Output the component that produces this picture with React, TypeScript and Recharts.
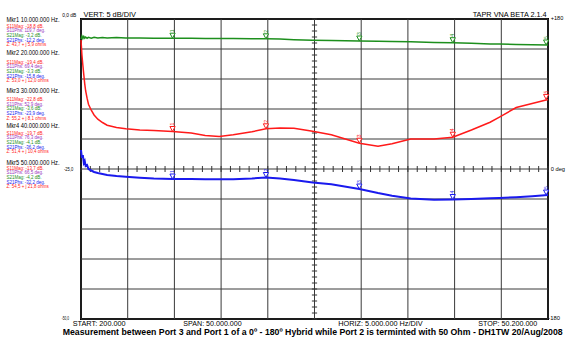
import React from 'react';
import {
  LineChart,
  Line,
  XAxis,
  YAxis,
  ReferenceLine,
  ReferenceArea,
  ReferenceDot,
} from 'recharts';

// sweep points (MHz) and the three traces
const freqMHz = [
  0.2, 0.3, 0.4, 0.5, 0.6, 0.7, 0.85, 1.0, 1.3, 1.6, 2.0, 2.5, 3.0, 4.0, 5.0, 6.5, 8.0, 10.0,
  12, 13.5, 15, 16.5, 18.5, 20, 21.5, 23, 25, 27, 30, 32, 33.5, 35.5, 38, 40, 42, 44, 45, 46.8,
  48.5, 50.2,
];
const s11Mag = [
  -3.5, -6.0, -7.7, -9.3, -10.8, -12.0, -13.2, -14.2, -15.2, -16.0, -16.7, -17.25, -17.7, -18.1,
  -18.3, -18.5, -18.6, -18.75, -19.0, -19.4, -19.6, -19.3, -18.8, -18.3, -18.15, -18.2, -18.7,
  -19.3, -20.7, -21.2, -20.8, -20.0, -20.0, -19.7, -18.5, -17.2, -16.35, -14.75, -14.1, -13.4,
];
const s21Mag = [
  -3.35, -2.85, -3.25, -2.9, -3.2, -3.0, -3.2, -3.05, -3.2, -3.05, -3.15, -3.1, -3.15, -3.1,
  -3.15, -3.15, -3.2, -3.2, -3.2, -3.25, -3.25, -3.25, -3.3, -3.3, -3.35, -3.45, -3.55, -3.6,
  -3.67, -3.72, -3.75, -3.8, -3.9, -3.95, -4.05, -4.15, -4.17, -4.25, -4.3, -4.33,
];
const s21Phs = [
  22.8, 13.2, 16.8, 7.2, 9.6, 3.6, 4.8, 0, -1.8, -3.6, -4.8, -6.0, -7.2, -8.4, -9.2, -10.4, -11.4,
  -12, -12, -12.3, -12.4, -12.2, -11.3, -10.2, -11.5, -13.2, -16.2, -18.2, -24, -28.8, -32, -35.5,
  -36.8, -36.6, -36, -35.2, -34.8, -33.8, -32.6, -31.2,
];

// markers
const markerFreq = [10, 20, 30, 40, 50];
const markerS11Mag = [-18.75, -18.3, -20.7, -19.7, -13.4];
const markerS21Mag = [-3.2, -3.3, -3.67, -3.95, -4.33];
const markerS21Phs = [-12, -10.2, -24, -36.6, -31.2];

// axes
const xTicks = [0.2, 5.2, 10.2, 15.2, 20.2, 25.2, 30.2, 35.2, 40.2, 45.2, 50.2];
const dbTicks = [0, -5, -10, -15, -20, -25, -30, -35, -40, -45, -50];
const degTicks = [180, 144, 108, 72, 36, 0, -36, -72, -108, -144, -180];

// marker readout panel
const mkrHead = [
  'Mkr1  10.000.000 Hz.',
  'Mkr2  20.000.000 Hz.',
  'Mkr3  30.000.000 Hz.',
  'Mkr4  40.000.000 Hz.',
  'Mkr5  50.000.000 Hz.',
];
const mkrS11Mag = ['-18,8', '-19,4', '-22,8', '-19,7', '-13,7'];
const mkrS11Phs = ['119,7', '69,4', '52,9', '76,3', '66,5'];
const mkrS21Mag = ['-3,2', '-3,3', '-3,6', '-4,1', '-4,2'];
const mkrS21Phs = ['-12,2', '-15,8', '-23,9', '-36,2', '-32,2'];
const mkrZ = ['43,7 + j 5,9', '53,0 + j 12,0', '55,2 + j 8,1', '51,4 + j 10,4', '54,5 + j 21,8'];

const headY = [21.8, 55.2, 92.5, 127.5, 164.8];
const subY = [27.7, 63.7, 101, 134.7, 169.7];

const GREEN = '#1d8f1d';
const RED = '#ff1a1a';
const BLUE = '#1a1aee';
const PURPLE = '#9a35c0';
const GRID = '#3a3a3a';
const FONT = '"Liberation Sans", Arial, sans-serif';

const rows = freqMHz.map((f, i) => ({ f, s11: s11Mag[i], s21: s21Mag[i], phs: s21Phs[i] }));

const minorDb = Array.from({ length: 51 }, (_, i) => -i);
const minorMHz = Array.from({ length: 51 }, (_, i) => 0.2 + i);

const markerShape = (color: string, n: number) => (props: any) => {
  const { cx, cy } = props;
  return (
    <g>
      <polygon
        points={`${cx},${cy} ${cx - 2.6},${cy - 5} ${cx + 2.6},${cy - 5}`}
        fill="#fff"
        stroke={color}
        strokeWidth={1}
      />
      <text
        x={cx + 1.6}
        y={cy - 6}
        fontSize={5}
        fill={color}
        fontFamily={FONT}
        transform={`rotate(-90 ${cx + 1.6} ${cy - 6})`}
      >
        {n}
      </text>
    </g>
  );
};

export default function App() {
  return (
    <div style={{ position: 'absolute', left: 0, top: 0, width: 580, height: 348, background: '#fff' }}>
      <LineChart width={580} height={348} data={rows} margin={{ top: 19, right: 32, bottom: 29, left: 81 }}>
        <XAxis
          dataKey="f"
          type="number"
          domain={[0.2, 50.2]}
          ticks={xTicks}
          tick={false}
          axisLine={false}
          tickLine={false}
          height={0}
        />
        <YAxis domain={[-50, 0]} ticks={dbTicks} tick={false} axisLine={false} tickLine={false} width={0} />
        <YAxis
          yAxisId="deg"
          orientation="right"
          domain={[-180, 180]}
          ticks={degTicks}
          tick={false}
          axisLine={false}
          tickLine={false}
          width={0}
        />
        {xTicks.map((f) => (
          <ReferenceLine key={`gx${f}`} x={f} stroke={GRID} strokeWidth={1} />
        ))}
        {dbTicks.map((d) => (
          <ReferenceLine key={`gy${d}`} y={d} stroke={GRID} strokeWidth={1} />
        ))}
        {minorDb.map((d) => (
          <ReferenceLine
            key={`md${d}`}
            segment={[{ x: 24.92, y: d }, { x: 25.48, y: d }]}
            stroke="#333"
          />
        ))}
        {minorMHz.map((f) => (
          <ReferenceLine
            key={`mf${f}`}
            segment={[{ x: f, y: -25.5 }, { x: f, y: -24.5 }]}
            stroke="#333"
          />
        ))}
        <ReferenceArea x1={0.2} x2={50.2} y1={-50} y2={0} fill="none" stroke="#000" strokeWidth={2} />
        <Line dataKey="s21" stroke={GREEN} strokeWidth={1.5} dot={false} isAnimationActive={false} />
        <Line dataKey="s11" stroke={RED} strokeWidth={1.5} dot={false} isAnimationActive={false} />
        <Line
          dataKey="phs"
          yAxisId="deg"
          stroke={BLUE}
          strokeWidth={2}
          dot={false}
          isAnimationActive={false}
        />
        {markerFreq.map((f, i) => (
          <ReferenceDot key={`g${i}`} x={f} y={markerS21Mag[i]} shape={markerShape(GREEN, i + 1)} />
        ))}
        {markerFreq.map((f, i) => (
          <ReferenceDot key={`r${i}`} x={f} y={markerS11Mag[i]} shape={markerShape(RED, i + 1)} />
        ))}
        {markerFreq.map((f, i) => (
          <ReferenceDot
            key={`b${i}`}
            x={f}
            y={markerS21Phs[i]}
            yAxisId="deg"
            shape={markerShape(BLUE, i + 1)}
          />
        ))}
      </LineChart>

      <svg
        width={580}
        height={348}
        style={{ position: 'absolute', left: 0, top: 0, pointerEvents: 'none' }}
        fontFamily={FONT}
      >
        <text x={83.5} y={17.3} fontSize={6.5} textLength={52.5} lengthAdjust="spacingAndGlyphs">
          VERT:  5 dB/DIV
        </text>
        <text x={472.7} y={17.3} fontSize={6.5} textLength={74} lengthAdjust="spacingAndGlyphs">
          TAPR VNA BETA 2.1.4
        </text>
        <text x={62.3} y={16.8} fontSize={5.6} textLength={14} lengthAdjust="spacingAndGlyphs">
          0,0 dB
        </text>
        <text x={64} y={171.3} fontSize={5.5} textLength={9.3} lengthAdjust="spacingAndGlyphs">
          -25,0
        </text>
        <text x={61.7} y={320.3} fontSize={5.5} textLength={7.3} lengthAdjust="spacingAndGlyphs">
          -50,0
        </text>
        <text x={550.7} y={20.3} fontSize={5.5} textLength={12.6} lengthAdjust="spacingAndGlyphs">
          +180
        </text>
        <text x={550.7} y={171} fontSize={5.5} textLength={14.3} lengthAdjust="spacingAndGlyphs">
          0 deg
        </text>
        <text x={548.3} y={320} fontSize={5.5} textLength={11.7} lengthAdjust="spacingAndGlyphs">
          -180
        </text>

        <text x={72.7} y={325.6} fontSize={6.5} textLength={53} lengthAdjust="spacingAndGlyphs">
          START: 200.000
        </text>
        <text x={183.3} y={325.6} fontSize={6.5} textLength={58.4} lengthAdjust="spacingAndGlyphs">
          SPAN: 50.000.000
        </text>
        <text x={338.3} y={325.6} fontSize={6.5} textLength={84.4} lengthAdjust="spacingAndGlyphs">
          HORIZ: 5.000.000 Hz/DIV
        </text>
        <text x={478.3} y={325.6} fontSize={6.5} textLength={59} lengthAdjust="spacingAndGlyphs">
          STOP: 50.200.000
        </text>
        <g transform="translate(62.7,334.6) scale(0.8,1)">
          <text
            x={0}
            y={0}
            fontSize={9.5}
            fontWeight="bold"
            textLength={625}
            lengthAdjust="spacingAndGlyphs"
          >
            Measurement between Port 3 and Port 1 of a 0º - 180º Hybrid while Port 2 is terminted with 50 Ohm - DH1TW 20/Aug/2008
          </text>
        </g>

        {mkrHead.map((h, i) => (
          <g key={h}>
            <text x={6.5} y={headY[i]} fontSize={6.5} textLength={53} lengthAdjust="spacingAndGlyphs">
              {h}
            </text>
            <g transform="translate(6.5,0) scale(0.9,1)" fontSize={5}>
              <text x={0} y={subY[i]} fill={RED}>{`S11Mag: ${mkrS11Mag[i]} dB.`}</text>
              <text x={0} y={subY[i] + 4.7} fill={PURPLE}>{`S11Phs: ${mkrS11Phs[i]} deg.`}</text>
              <text x={0} y={subY[i] + 9.4} fill={GREEN}>{`S21Mag: ${mkrS21Mag[i]} dB.`}</text>
              <text x={0} y={subY[i] + 14.1} fill={BLUE}>{`S21Phs: ${mkrS21Phs[i]} deg.`}</text>
              <text x={0} y={subY[i] + 18.8} fill={RED}>{`Z: ${mkrZ[i]} ohms`}</text>
            </g>
          </g>
        ))}
      </svg>
    </div>
  );
}
